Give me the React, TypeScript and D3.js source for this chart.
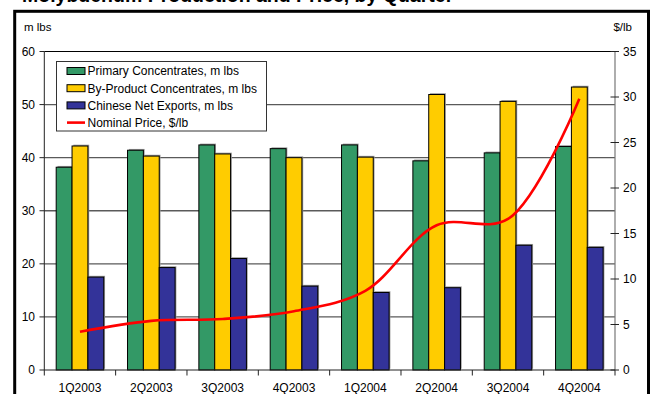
import React from 'react';
import * as d3 from 'd3';

// Quarterly molybdenum supply (left axis, million lbs) and price (right axis, $/lb)
const quarters = ['1Q2003', '2Q2003', '3Q2003', '4Q2003', '1Q2004', '2Q2004', '3Q2004', '4Q2004'];
const primaryConcentrates = [38.2, 41.4, 42.4, 41.7, 42.4, 39.4, 40.9, 42.1];
const byProductConcentrates = [42.2, 40.3, 40.7, 40.0, 40.1, 51.9, 50.6, 53.3];
const chineseNetExports = [17.5, 19.3, 21.0, 15.8, 14.6, 15.5, 23.5, 23.1];
const nominalPrice = [4.2, 5.4, 5.6, 6.45, 8.7, 15.9, 16.6, 29.8];

const volumeTicks = [0, 10, 20, 30, 40, 50, 60];
const priceTicks = [0, 5, 10, 15, 20, 25, 30, 35];

const barSeries = [
  { name: 'Primary Concentrates, m lbs', values: primaryConcentrates, color: '#339966' },
  { name: 'By-Product Concentrates, m lbs', values: byProductConcentrates, color: '#FFCC00' },
  { name: 'Chinese Net Exports, m lbs', values: chineseNetExports, color: '#333399' },
];
const priceName = 'Nominal Price, $/lb';

const W = 652;
const H = 394;
const FONT = "'Liberation Sans', Arial, Helvetica, sans-serif";

export default function App() {
  const left = 44.3;
  const right = 615;
  const top = 51.5;
  const bottom = 370;

  const x = d3.scaleBand<string>().domain(quarters).range([left, right]).paddingInner(0).paddingOuter(0);
  const bw = x.bandwidth();
  // 50% gap between groups
  const xInner = d3
    .scaleBand<number>()
    .domain(d3.range(barSeries.length))
    .range([bw / 6, (bw * 5) / 6])
    .padding(0);

  const yL = d3.scaleLinear().domain([0, 60]).range([bottom, top]);
  const yR = d3.scaleLinear().domain([0, 35]).range([bottom, top]);

  const priceLine = d3
    .line<number>()
    .x((_, i) => (x(quarters[i]) as number) + bw / 2)
    .y((d) => yR(d))
    .curve(d3.curveCatmullRom.alpha(0.5));

  const legendRows = [71, 88.2, 105.4, 122.6];

  return (
    <svg
      width={W}
      height={H}
      viewBox={`0 0 ${W} ${H}`}
      style={{ position: 'absolute', left: 0, top: 0, background: '#fff' }}
      fontFamily={FONT}
    >
      <rect x={0} y={0} width={W} height={H} fill="#fff" />

      {/* title, clipped by the top edge */}
      <text x={22} y={1.6} fontSize={19.5} fontWeight="bold" fill="#000">
        Molybdenum Production and Price, by Quarter
      </text>

      {/* outer frame */}
      <rect x={14.7} y={11.3} width={633.8} height={400} fill="none" stroke="#000" strokeWidth={3} />

      {/* axis titles */}
      <text x={24} y={30.5} fontSize={11.5} fill="#000">m lbs</text>
      <text x={632} y={30.5} fontSize={11.5} fill="#000" textAnchor="end">$/lb</text>

      {/* gridlines */}
      {volumeTicks.filter((t) => t > 0).map((t) => (
        <line
          key={`g${t}`}
          x1={left}
          x2={right}
          y1={yL(t)}
          y2={yL(t)}
          stroke={t === 60 ? '#000' : '#5a5a5a'}
          strokeWidth={t === 60 ? 1 : 1.3}
        />
      ))}

      {/* bars with a soft offset shadow */}
      {barSeries.map((s, si) => (
        <g key={s.name}>
          {s.values.map((v, i) => {
            const bx = (x(quarters[i]) as number) + (xInner(si) as number);
            const by = yL(v);
            return (
              <rect
                key={`sh${i}`}
                x={bx + 1.3}
                y={by - 1.3}
                width={xInner.bandwidth()}
                height={bottom - by}
                fill="#9a9a9a"
              />
            );
          })}
        </g>
      ))}
      {barSeries.map((s, si) => (
        <g key={`b${s.name}`}>
          {s.values.map((v, i) => {
            const bx = (x(quarters[i]) as number) + (xInner(si) as number);
            const by = yL(v);
            return (
              <rect
                key={i}
                x={bx}
                y={by}
                width={xInner.bandwidth()}
                height={bottom - by}
                fill={s.color}
                stroke="#000"
                strokeWidth={1}
              />
            );
          })}
        </g>
      ))}

      {/* left axis */}
      <line x1={left} x2={left} y1={top} y2={bottom} stroke="#222" strokeWidth={1} />
      {volumeTicks.map((t) => (
        <g key={`l${t}`}>
          <line x1={39.5} x2={left} y1={yL(t)} y2={yL(t)} stroke="#222" />
          <text x={35} y={yL(t) + 4.3} fontSize={12} textAnchor="end" fill="#000">
            {t}
          </text>
        </g>
      ))}

      {/* right axis */}
      <line x1={right} x2={right} y1={top} y2={bottom} stroke="#777" strokeWidth={1.2} />
      {priceTicks.map((t) => (
        <g key={`r${t}`}>
          <line x1={610.5} x2={619} y1={yR(t)} y2={yR(t)} stroke="#222" />
          <text x={623} y={yR(t) + 4.3} fontSize={12} fill="#000">
            {t}
          </text>
        </g>
      ))}

      {/* category axis */}
      <line x1={left} x2={right} y1={bottom} y2={bottom} stroke="#222" strokeWidth={1} />
      {quarters.map((q) => (
        <line
          key={`t${q}`}
          x1={x(q) as number}
          x2={x(q) as number}
          y1={bottom}
          y2={bottom + 5.5}
          stroke="#222"
        />
      ))}
      <line x1={right} x2={right} y1={bottom} y2={bottom + 5.5} stroke="#222" />
      {quarters.map((q) => (
        <text
          key={`x${q}`}
          x={(x(q) as number) + bw / 2}
          y={391.5}
          fontSize={12}
          textAnchor="middle"
          fill="#000"
        >
          {q}
        </text>
      ))}

      {/* price line */}
      <path d={priceLine(nominalPrice) || ''} fill="none" stroke="#FF0000" strokeWidth={2.6} strokeLinejoin="round" />

      {/* legend */}
      <rect x={56.5} y={61.5} width={210} height={69.5} fill="#fff" stroke="#333" strokeWidth={1} />
      {barSeries.map((s, i) => (
        <g key={`lg${s.name}`}>
          <rect x={67} y={legendRows[i] - 3.5} width={18} height={7} fill={s.color} stroke="#000" strokeWidth={1} />
          <text x={87.5} y={legendRows[i] + 4.3} fontSize={12} fill="#000">
            {s.name}
          </text>
        </g>
      ))}
      <line x1={67} x2={85} y1={legendRows[3]} y2={legendRows[3]} stroke="#FF0000" strokeWidth={2.6} />
      <text x={87.5} y={legendRows[3] + 4.3} fontSize={12} fill="#000">
        {priceName}
      </text>
    </svg>
  );
}
